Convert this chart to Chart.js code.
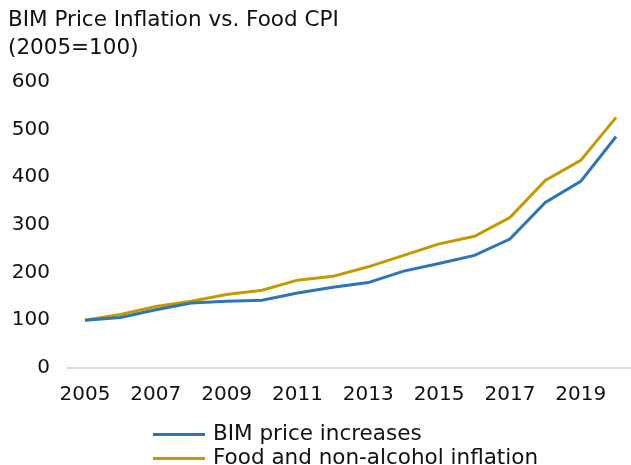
<!DOCTYPE html>
<html>
<head>
<meta charset="utf-8">
<script src="https://cdn.jsdelivr.net/npm/chart.js@4/dist/chart.umd.min.js"></script>
<style>
  html, body { margin: 0; padding: 0; background: #fff; overflow: hidden; }
  #wrap { position: relative; width: 631px; height: 465px; }
  #legend { position: absolute; left: 153px; top: 421px; font-family: "DejaVu Sans", sans-serif; font-size: 21.5px; color: #111; }
  #legend div { height: 24px; line-height: 24px; white-space: nowrap; }
  #legend span.swatch { display: inline-block; width: 52px; height: 3px; vertical-align: middle; margin-right: 8px; }
</style>
</head>
<body>
<div id="wrap">
  <canvas id="grafica" width="631" height="465"></canvas>
  <div id="legend"></div>
</div>
<script>
// datos
var years = [2005, 2006, 2007, 2008, 2009, 2010, 2011, 2012, 2013, 2014, 2015, 2016, 2017, 2018, 2019, 2020]
var bimPrices = [100, 106, 122, 136, 140, 142, 157, 169, 179, 203, 219, 236, 270, 347, 391, 485]
var foodCpi = [100, 112, 129, 140, 154, 163, 184, 192, 212, 236, 260, 276, 315, 393, 435, 525]
var yearTicks = [2005, 2007, 2009, 2011, 2013, 2015, 2017, 2019]
var labels = ['BIM price increases', 'Food and non-alcohol inflation']
var colores = ['#2E75B6', '#C49A00']

var fuente = "'DejaVu Sans', sans-serif"

var config = {
    type: 'line',
    data: {
        datasets: [{
            label: labels[0],
            data: years.map(function(y, i){ return {x: y, y: bimPrices[i]} }),
            borderColor: colores[0],
            backgroundColor: colores[0],
            borderWidth: 3,
            pointRadius: 0,
            tension: 0
        }, {
            label: labels[1],
            data: years.map(function(y, i){ return {x: y, y: foodCpi[i]} }),
            borderColor: colores[1],
            backgroundColor: colores[1],
            borderWidth: 3,
            pointRadius: 0,
            tension: 0
        }]
    },
    options: {
        responsive: false,
        animation: false,
        layout: {
            padding: { left: 8, right: 0, top: 7, bottom: 51 }
        },
        plugins: {
            legend: { display: false },
            tooltip: { enabled: false },
            title: {
                display: true,
                text: ['BIM Price Inflation vs. Food CPI', '(2005=100)'],
                align: 'start',
                color: '#111',
                font: { family: fuente, size: 21.5, weight: 'normal', lineHeight: 1.27 },
                padding: { top: 0, bottom: 20 }
            }
        },
        scales: {
            x: {
                type: 'linear',
                min: 2004.52,
                max: 2020.42,
                grid: { display: false },
                border: { display: true, color: '#d9d9d9', width: 2 },
                afterBuildTicks: function(axis){
                    axis.ticks = yearTicks.map(function(v){ return {value: v} })
                },
                ticks: {
                    color: '#111',
                    padding: 7,
                    maxRotation: 0,
                    font: { family: fuente, size: 20 },
                    callback: function(v){ return String(v) }
                }
            },
            y: {
                min: 0,
                max: 600,
                grid: { display: false },
                border: { display: false },
                afterFit: function(axis){
                    axis.width = 60
                },
                ticks: {
                    stepSize: 100,
                    color: '#111',
                    padding: 10,
                    font: { family: fuente, size: 20 }
                }
            }
        }
    }
}

var ctx = document.getElementById('grafica').getContext('2d')
window.miGrafica = new Chart(ctx, config)

// leyenda
var leyenda = document.getElementById('legend')
window.miGrafica.data.datasets.forEach(function(ds){
    var fila = document.createElement('div')
    fila.innerHTML = '<span class="swatch" style="background:' + ds.borderColor + '"></span>' + ds.label
    leyenda.appendChild(fila)
})
</script>
</body>
</html>
